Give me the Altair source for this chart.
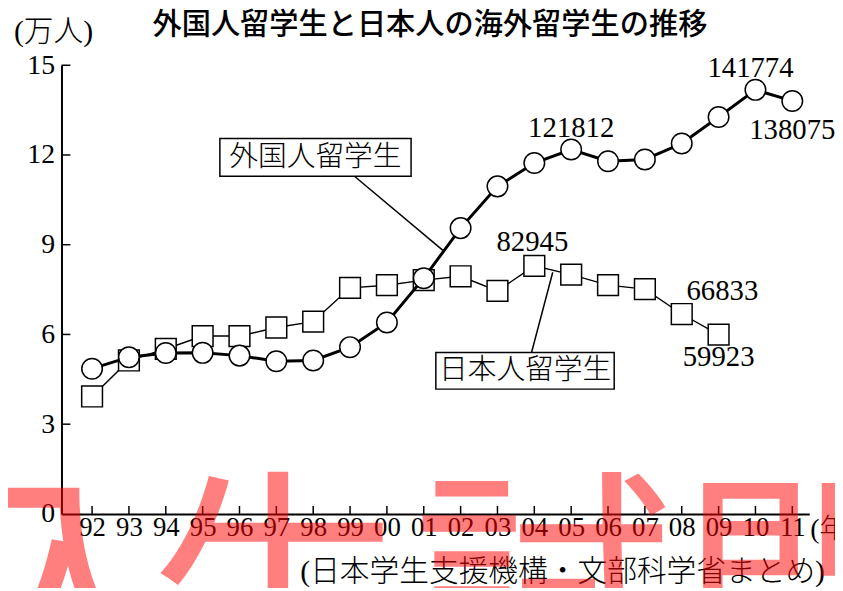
import altair as alt
import pandas as pd

# ---- data ----
years = ["92", "93", "94", "95", "96", "97", "98", "99", "00", "01",
         "02", "03", "04", "05", "06", "07", "08", "09", "10", "11"]
foreign = [48561, 52405, 53787, 53847, 52921, 51047, 51298, 55755, 64011, 78812,
           95550, 109508, 117302, 121812, 117927, 118498, 123829, 132720, 141774, 138075]
japanese = [39258, 51295, 55145, 59460, 59468, 62324, 64284, 75586, 76464, 78151,
            79455, 74551, 82945, 80023, 76492, 75156, 66833, 59923]
y_ticks = [0, 3, 6, 9, 12, 15]

title_text = "外国人留学生と日本人の海外留学生の推移"
unit_text = "(万人)"
source_text = "(日本学生支援機構・文部科学省まとめ)"
xunit_text = "(年)"
label_foreign = "外国人留学生"
label_japanese = "日本人留学生"

df_f = pd.DataFrame({"idx": list(range(len(foreign))), "v": [x / 10000 for x in foreign]})
df_j = pd.DataFrame({"idx": list(range(len(japanese))), "v": [x / 10000 for x in japanese]})

W, H = 755, 453
SERIF = "Liberation Serif"
JP = "Noto Sans CJK JP"
MIX = "Liberation Serif, Noto Sans CJK JP"

xscale = alt.Scale(domain=[-0.83, 19.46], nice=False, zero=False)
yscale = alt.Scale(domain=[0, 15], nice=False, zero=True)

label_expr = "[" + ",".join("'%s'" % y for y in years) + "][datum.value]"

XAXIS = alt.Axis(values=list(range(len(years))), labelExpr=label_expr, ticks=False,
                 grid=False, title=None, domainColor="black", domainWidth=2,
                 labelFont=SERIF, labelFontSize=27, labelColor="black",
                 labelPadding=1, labelFlush=False, labelOverlap=False)
YAXIS = alt.Axis(values=y_ticks, ticks=False, grid=False, title=None,
                 domainColor="black", domainWidth=2, labelFont=SERIF,
                 labelFontSize=28, labelColor="black", labelPadding=7,
                 labelOverlap=False)


def xq(field):
    return alt.X(field, scale=xscale, axis=XAXIS, title=None)


def yq(field):
    return alt.Y(field, scale=yscale, axis=YAXIS, title=None)


base_f = alt.Chart(df_f)
base_j = alt.Chart(df_j)

# inward tick marks
xt = alt.Chart(pd.DataFrame({"idx": list(range(len(years)))})).mark_rule(
    color="black", strokeWidth=1.5).encode(
    x=xq("idx:Q"), y=alt.value(H), y2=alt.value(H - 8))
yt = alt.Chart(pd.DataFrame({"v": y_ticks[1:]})).mark_rule(
    color="black", strokeWidth=1.5).encode(
    y=yq("v:Q"), x=alt.value(0), x2=alt.value(9))

# leader lines for the callout boxes
leaders = alt.Chart(pd.DataFrame({
    "x": [7.12, 12.5], "y": [11.29, 8.08], "x2": [9.52, 11.91], "y2": [8.81, 5.33]
})).mark_rule(color="black", strokeWidth=1.5).encode(
    x=xq("x:Q"), y=yq("y:Q"), x2="x2:Q", y2="y2:Q")

line_j = base_j.mark_line(color="black", strokeWidth=1.4).encode(x=xq("idx:Q"), y=yq("v:Q"))
pts_j = base_j.mark_point(shape="square", filled=True, fill="white", stroke="black",
                          strokeWidth=1.5, size=440, opacity=1).encode(
    x=xq("idx:Q"), y=yq("v:Q"))
line_f = base_f.mark_line(color="black", strokeWidth=3).encode(x=xq("idx:Q"), y=yq("v:Q"))
pts_f = base_f.mark_point(shape="circle", filled=True, fill="white", stroke="black",
                          strokeWidth=1.5, size=430, opacity=1).encode(
    x=xq("idx:Q"), y=yq("v:Q"))

# callout boxes
boxes = alt.Chart(pd.DataFrame({
    "x": [3.468, 9.328], "x2": [8.656, 14.167], "y": [12.55, 5.397], "y2": [11.29, 4.172]
})).mark_rect(fill="white", stroke="black", strokeWidth=1.5).encode(
    x=xq("x:Q"), x2="x2:Q", y=yq("y:Q"), y2="y2:Q")
box_text = alt.Chart(pd.DataFrame({
    "x": [6.06, 11.75], "y": [11.92, 4.80], "t": [label_foreign, label_japanese]
})).mark_text(font=JP, fontSize=29, fontWeight=300, color="black", baseline="middle").encode(
    x=xq("x:Q"), y=yq("y:Q"), text="t:N")


def value_label(series, i, dx, dy):
    d = pd.DataFrame({"idx": [i], "v": [series[i] / 10000], "t": [str(series[i])]})
    return alt.Chart(d).mark_text(font=SERIF, fontSize=29, color="black",
                                  baseline="middle", dx=dx, dy=dy).encode(
        x=xq("idx:Q"), y=yq("v:Q"), text="t:N")


labels = [
    value_label(foreign, 18, -5, -22),
    value_label(foreign, 19, 0, 29),
    value_label(foreign, 13, 0, -22),
    value_label(japanese, 12, -2, -24),
    value_label(japanese, 16, 41, -23),
    value_label(japanese, 17, 0, 23),
]

one = pd.DataFrame({"a": [0]})
title = alt.Chart(one).mark_text(font=JP, fontSize=29.5, fontWeight=500, color="black",
                                 baseline="middle").encode(
    x=alt.value(372), y=alt.value(-41), text=alt.value(title_text))
unit = alt.Chart(one).mark_text(font=MIX, fontSize=30, fontWeight=300, color="black",
                                baseline="middle").encode(
    x=alt.value(-8), y=alt.value(-33), text=alt.value(unit_text))
xunit = alt.Chart(one).mark_text(font=MIX, fontSize=28, fontWeight=300, color="black",
                                 baseline="middle", align="left").encode(
    x=alt.value(756), y=alt.value(H + 16), text=alt.value(xunit_text))
source = alt.Chart(one).mark_text(font=MIX, fontSize=30, fontWeight=300, color="black",
                                  baseline="middle").encode(
    x=alt.value(506), y=alt.value(H + 59), text=alt.value(source_text))

# red watermark (partially visible large characters)
wm_chars = ["入", "生", "試", "問"]
wm_x = [5, 218, 487, 756]
wm = [alt.Chart(one).mark_text(font=JP, fontSize=265, fontWeight="normal", color="#ff0000",
                               opacity=0.5, baseline="alphabetic").encode(
    x=alt.value(x), y=alt.value(H + 180), text=alt.value(c)) for c, x in zip(wm_chars, wm_x)]

chart = alt.layer(
    line_j, leaders, xt, yt, pts_j, line_f, pts_f, boxes, box_text, *labels,
    title, unit, xunit, source, *wm
).properties(
    width=W, height=H,
    padding={"left": 54, "top": 55, "right": 26, "bottom": 72},
    autosize=alt.AutoSizeParams(type="none"),
).configure_view(stroke=None).configure_text(align="center")

chart.save("out.html", embed_options={"renderer": "svg", "actions": False})
